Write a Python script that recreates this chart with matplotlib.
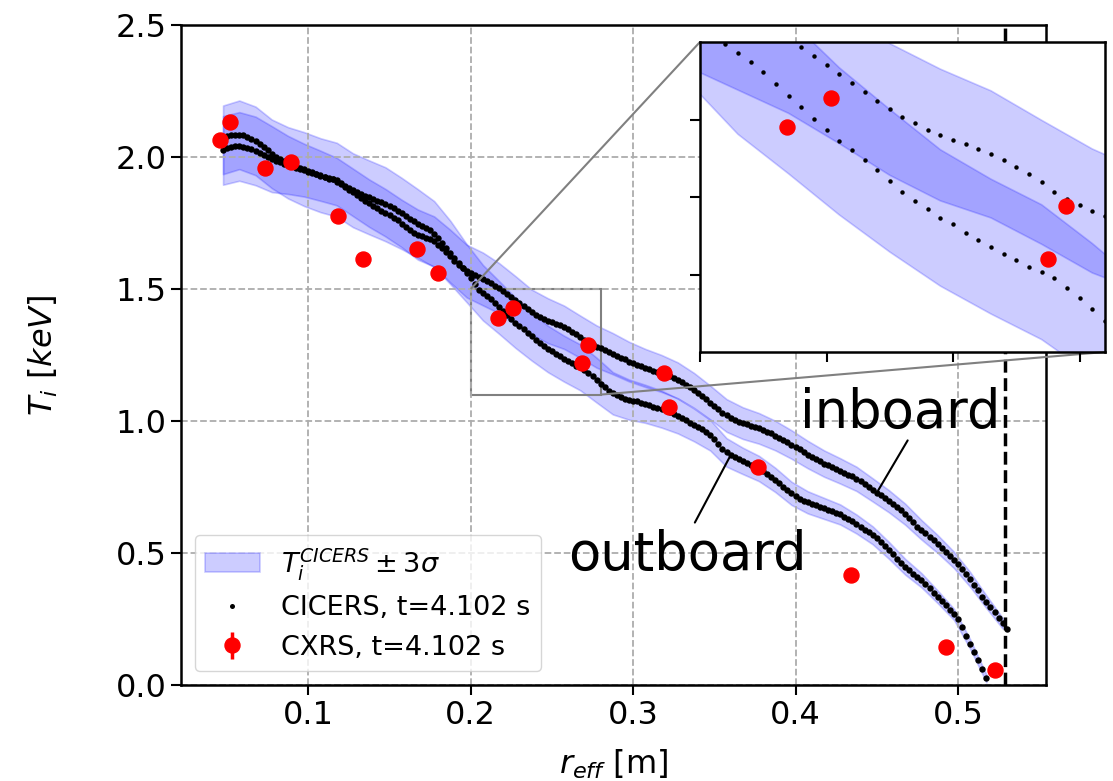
import numpy as np
import matplotlib.pyplot as plt
from mpl_toolkits.axes_grid1.inset_locator import mark_inset

# radial grid of the CICERS profiles [m]
r = [0.0475, 0.05, 0.0525, 0.055, 0.0575, 0.06, 0.0625, 0.065, 0.0675, 0.07,
     0.0725, 0.075, 0.0775, 0.08, 0.0825, 0.085, 0.0875, 0.09, 0.0925, 0.095,
     0.0975, 0.1, 0.1025, 0.105, 0.1075, 0.11, 0.1125, 0.115, 0.1175, 0.12,
     0.1225, 0.125, 0.1275, 0.13, 0.1325, 0.135, 0.1375, 0.14, 0.1425, 0.145,
     0.1475, 0.15, 0.1525, 0.155, 0.1575, 0.16, 0.1625, 0.165, 0.1675, 0.17,
     0.1725, 0.175, 0.1775, 0.18, 0.1825, 0.185, 0.1875, 0.19, 0.1925, 0.195,
     0.1975, 0.2, 0.2025, 0.205, 0.2075, 0.21, 0.2125, 0.215, 0.2175, 0.22,
     0.2225, 0.225, 0.2275, 0.23, 0.2325, 0.235, 0.2375, 0.24, 0.2425, 0.245,
     0.2475, 0.25, 0.2525, 0.255, 0.2575, 0.26, 0.2625, 0.265, 0.2675, 0.27,
     0.2725, 0.275, 0.2775, 0.28, 0.2825, 0.285, 0.2875, 0.29, 0.2925, 0.295,
     0.2975, 0.3, 0.3025, 0.305, 0.3075, 0.31, 0.3125, 0.315, 0.3175, 0.32,
     0.3225, 0.325, 0.3275, 0.33, 0.3325, 0.335, 0.3375, 0.34, 0.3425, 0.345,
     0.3475, 0.35, 0.3525, 0.355, 0.3575, 0.36, 0.3625, 0.365, 0.3675, 0.37,
     0.3725, 0.375, 0.3775, 0.38, 0.3825, 0.385, 0.3875, 0.39, 0.3925, 0.395,
     0.3975, 0.4, 0.4025, 0.405, 0.4075, 0.41, 0.4125, 0.415, 0.4175, 0.42,
     0.4225, 0.425, 0.4275, 0.43, 0.4325, 0.435, 0.4375, 0.44, 0.4425, 0.445,
     0.4475, 0.45, 0.4525, 0.455, 0.4575, 0.46, 0.4625, 0.465, 0.4675, 0.47,
     0.4725, 0.475, 0.4775, 0.48, 0.4825, 0.485, 0.4875, 0.49, 0.4925, 0.495,
     0.4975, 0.5, 0.5025, 0.505, 0.5075, 0.51, 0.5125, 0.515, 0.5175, 0.52,
     0.5225, 0.525, 0.5275, 0.53]

# CICERS Ti, inboard side [keV]
T_in = [2.025, 2.033, 2.037, 2.040, 2.040, 2.038, 2.035, 2.030, 2.023, 2.015,
        2.008, 2.000, 1.992, 1.985, 1.980, 1.975, 1.970, 1.965, 1.960, 1.955,
        1.950, 1.945, 1.940, 1.935, 1.929, 1.923, 1.918, 1.915, 1.907, 1.897,
        1.887, 1.876, 1.866, 1.855, 1.845, 1.835, 1.825, 1.815, 1.806, 1.797,
        1.789, 1.780, 1.770, 1.760, 1.748, 1.735, 1.723, 1.712, 1.706, 1.700,
        1.695, 1.690, 1.680, 1.668, 1.655, 1.640, 1.624, 1.607, 1.592, 1.578,
        1.568, 1.560, 1.553, 1.545, 1.538, 1.530, 1.521, 1.512, 1.503, 1.494,
        1.482, 1.470, 1.459, 1.447, 1.435, 1.424, 1.413, 1.403, 1.395, 1.387,
        1.380, 1.374, 1.368, 1.362, 1.355, 1.348, 1.339, 1.330, 1.319, 1.307,
        1.298, 1.290, 1.282, 1.275, 1.268, 1.262, 1.255, 1.248, 1.240, 1.233,
        1.225, 1.218, 1.212, 1.207, 1.201, 1.196, 1.191, 1.186, 1.180, 1.175,
        1.169, 1.162, 1.154, 1.146, 1.137, 1.127, 1.116, 1.105, 1.094, 1.082,
        1.070, 1.058, 1.045, 1.032, 1.021, 1.012, 1.005, 0.998, 0.992, 0.987,
        0.982, 0.977, 0.972, 0.967, 0.960, 0.953, 0.945, 0.937, 0.929, 0.920,
        0.911, 0.902, 0.893, 0.883, 0.873, 0.864, 0.855, 0.847, 0.839, 0.832,
        0.825, 0.818, 0.811, 0.804, 0.797, 0.790, 0.781, 0.771, 0.761, 0.750,
        0.739, 0.728, 0.718, 0.707, 0.696, 0.684, 0.673, 0.662, 0.647, 0.631,
        0.616, 0.600, 0.588, 0.575, 0.562, 0.549, 0.534, 0.518, 0.504, 0.490,
        0.474, 0.458, 0.440, 0.420, 0.400, 0.380, 0.358, 0.335, 0.315, 0.295,
        0.275, 0.255, 0.234, 0.212]

# CICERS Ti, outboard side [keV]
T_out = [2.065, 2.078, 2.082, 2.085, 2.084, 2.082, 2.077, 2.070, 2.061, 2.050,
         2.038, 2.025, 2.012, 2.000, 1.992, 1.985, 1.978, 1.972, 1.966, 1.960,
         1.954, 1.948, 1.942, 1.937, 1.931, 1.925, 1.920, 1.917, 1.914, 1.900,
         1.890, 1.882, 1.874, 1.867, 1.860, 1.853, 1.847, 1.841, 1.835, 1.828,
         1.821, 1.813, 1.805, 1.796, 1.786, 1.776, 1.766, 1.756, 1.748, 1.740,
         1.732, 1.722, 1.708, 1.692, 1.675, 1.657, 1.638, 1.619, 1.600, 1.580,
         1.560, 1.540, 1.518, 1.497, 1.486, 1.474, 1.461, 1.446, 1.430, 1.416,
         1.401, 1.386, 1.372, 1.361, 1.348, 1.335, 1.321, 1.307, 1.295, 1.284,
         1.273, 1.265, 1.254, 1.245, 1.236, 1.227, 1.219, 1.210, 1.203, 1.195,
         1.183, 1.170, 1.155, 1.140, 1.127, 1.115, 1.105, 1.097, 1.090, 1.085,
         1.081, 1.077, 1.074, 1.070, 1.065, 1.060, 1.054, 1.048, 1.045, 1.042,
         1.036, 1.028, 1.019, 1.010, 1.002, 0.993, 0.985, 0.977, 0.968, 0.958,
         0.946, 0.932, 0.914, 0.895, 0.881, 0.870, 0.862, 0.855, 0.849, 0.842,
         0.835, 0.828, 0.820, 0.810, 0.800, 0.789, 0.777, 0.765, 0.751, 0.738,
         0.726, 0.715, 0.706, 0.698, 0.692, 0.686, 0.680, 0.675, 0.669, 0.664,
         0.659, 0.653, 0.646, 0.638, 0.629, 0.620, 0.610, 0.600, 0.589, 0.578,
         0.567, 0.555, 0.540, 0.525, 0.510, 0.495, 0.478, 0.462, 0.448, 0.435,
         0.422, 0.410, 0.397, 0.383, 0.367, 0.350, 0.334, 0.318, 0.302, 0.285,
         0.268, 0.250, 0.218, 0.185, 0.155, 0.125, 0.094, 0.062, 0.025, -0.012]

# 3 sigma uncertainty, given on every 4th grid point
sig3_in = [0.13, 0.13, 0.13, 0.125, 0.11, 0.10, 0.095, 0.09, 0.09, 0.09,
           0.09, 0.09, 0.095, 0.095, 0.10, 0.10, 0.10, 0.095, 0.09, 0.085,
           0.085, 0.082, 0.08, 0.08, 0.078, 0.075, 0.072, 0.07, 0.068, 0.066,
           0.064, 0.062, 0.06, 0.058, 0.056, 0.054, 0.052, 0.05, 0.048, 0.046,
           0.044, 0.042, 0.04, 0.037, 0.034, 0.031, 0.028, 0.024, 0.02]
sig3_out = [0.13, 0.13, 0.13, 0.13, 0.135, 0.14, 0.14, 0.14, 0.14, 0.14,
            0.14, 0.135, 0.13, 0.125, 0.12, 0.11, 0.105, 0.10, 0.095, 0.092,
            0.088, 0.087, 0.087, 0.085, 0.08, 0.076, 0.072, 0.07, 0.066, 0.062,
            0.058, 0.054, 0.05, 0.048, 0.046, 0.044, 0.042, 0.04, 0.038, 0.036,
            0.034, 0.032, 0.03, 0.027, 0.024, 0.021, 0.018, 0.015]

# CXRS points
r_cx = [0.0456, 0.0518, 0.0733, 0.0893, 0.1185, 0.1335, 0.1668, 0.1797, 0.2171,
        0.2259, 0.2688, 0.2723, 0.3187, 0.3218, 0.3769, 0.4342, 0.4929, 0.5231]
T_cx = [2.064, 2.134, 1.957, 1.980, 1.778, 1.612, 1.650, 1.562, 1.390,
        1.428, 1.220, 1.288, 1.183, 1.054, 0.827, 0.417, 0.145, 0.057]
dT_cx = [0.007, 0.007, 0.007, 0.007, 0.007, 0.007, 0.007, 0.007, 0.007,
         0.007, 0.007, 0.007, 0.007, 0.007, 0.007, 0.007, 0.007, 0.007]

r_lcfs = 0.529

r_arr = np.array(r)
T_in_arr = np.array(T_in)
T_out_arr = np.array(T_out)
r_out = r_arr[:len(T_out)]


def draw_profiles(a, dot_ms, red_ms):
    rb_in = r_arr[::4]
    cb_in = T_in_arr[::4]
    band = a.fill_between(rb_in, cb_in - np.array(sig3_in), cb_in + np.array(sig3_in),
                          color='b', alpha=0.2, lw=1.2)
    rb_out = r_out[::4]
    cb_out = T_out_arr[::4]
    a.fill_between(rb_out, cb_out - np.array(sig3_out), cb_out + np.array(sig3_out),
                   color='b', alpha=0.2, lw=1.2)
    dots, = a.plot(r_arr, T_in_arr, 'o', color='k', ms=dot_ms, mew=0)
    a.plot(r_out, T_out_arr, 'o', color='k', ms=dot_ms, mew=0)
    cx = a.errorbar(r_cx, T_cx, yerr=dT_cx, fmt='o', color='r', ms=red_ms,
                    elinewidth=2.5, zorder=5)
    return band, dots, cx


fig = plt.figure(figsize=(11.13, 7.81), dpi=100)
ax = fig.add_axes([0.1626, 0.1229, 0.7769, 0.8451])

band, dots, cx = draw_profiles(ax, 4.6, 10.8)
ax.axvline(r_lcfs, color='k', ls='--', lw=2.5, zorder=4)

ax.set_xlim(0.0216, 0.554)
ax.set_ylim(0, 2.5)
ax.set_xticks([0.1, 0.2, 0.3, 0.4, 0.5])
ax.set_yticks([0.0, 0.5, 1.0, 1.5, 2.0, 2.5])
ax.grid(True, ls='--', color='0.68', lw=1.3)
ax.tick_params(labelsize=23, length=7, width=1.5)
for s in ax.spines.values():
    s.set_linewidth(1.8)
ax.set_xlabel(r'$r_{eff}$ [m]', fontsize=23, labelpad=12)
ax.set_ylabel(r'$T_i\ [keV]$', fontsize=23, labelpad=40)

leg = ax.legend([band, dots, cx],
                [r'$T_i^{CICERS} \pm 3\sigma$', 'CICERS, t=4.102 s', 'CXRS, t=4.102 s'],
                loc='lower left', fontsize=19.5)
leg.legend_handles[1].set_markersize(3.6)

# labels for the two branches
ax.text(0.403, 0.973, 'inboard', fontsize=38, va='baseline', zorder=6)
ax.text(0.260, 0.436, 'outboard', fontsize=38, va='baseline', zorder=6)
ax.annotate('', xy=(r[161], T_in[161]), xytext=(0.4699, 0.9356),
            arrowprops=dict(arrowstyle='-', color='k', lw=1.5))
ax.annotate('', xy=(r[125], T_out[125]), xytext=(0.3372, 0.606),
            arrowprops=dict(arrowstyle='-', color='k', lw=1.5))

# zoomed view of the crossing region
axins = fig.add_axes([0.6289, 0.5493, 0.3639, 0.3969])
draw_profiles(axins, 3.2, 10.8)
axins.set_xlim(0.2, 0.28)
axins.set_ylim(1.1, 1.5)
axins.set_xticks([0.2, 0.225, 0.25, 0.275])
axins.set_yticks([1.2, 1.3, 1.4])
axins.set_xticklabels([])
axins.set_yticklabels([])
axins.tick_params(length=7, width=1.5)
for s in axins.spines.values():
    s.set_linewidth(1.8)
mark_inset(ax, axins, loc1=2, loc2=4, fc='none', ec='0.5', lw=1.5)

fig.savefig('out.png', dpi=100)
